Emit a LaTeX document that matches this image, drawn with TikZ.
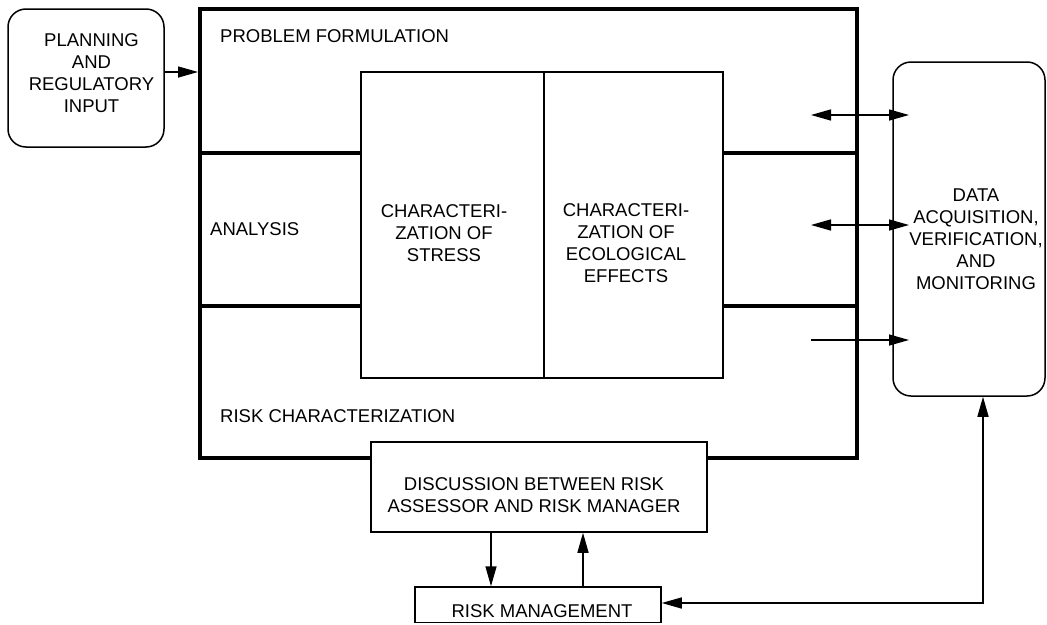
\documentclass[tikz,border=0pt]{standalone}
\usepackage{fontspec}
\setmainfont{Liberation Sans}
\usetikzlibrary{arrows.meta}
\newcommand{\lbfont}{\fontsize{18.5}{22}\selectfont}
\begin{document}
\begin{tikzpicture}[x=1pt,y=-1pt,
  thinline/.style={line width=1.5pt},
  heavyline/.style={line width=4pt},
  box/.style={draw,thinline,inner sep=0pt},
  arr/.style={thinline,-{Triangle[length=20pt,width=11pt]}},
  darr/.style={thinline,{Triangle[length=20pt,width=11pt]}-{Triangle[length=20pt,width=11pt]}},
  lbl/.style={inner sep=0pt,align=center,font=\lbfont},
  lbll/.style={inner sep=0pt,anchor=west,font=\lbfont}]
\useasboundingbox (0,0) rectangle (1047,624);
\fill[white] (0,0) rectangle (1047,624);

% boxes
\node[box,rounded corners=18pt,minimum width=156pt,minimum height=138pt] (plan) at (86,78) {};
\node[draw,heavyline,inner sep=0pt,minimum width=657pt,minimum height=449pt] (main) at (528.5,233.5) {};
\node[box,minimum width=183pt,minimum height=306pt] (stress) at (452.5,225) {};
\node[box,minimum width=179pt,minimum height=306pt] (eco) at (633.5,225) {};
\node[box,rounded corners=18pt,minimum width=152pt,minimum height=334pt] (data) at (969,229) {};
\node[box,fill=white,minimum width=336pt,minimum height=90pt] (disc) at (539,487) {};
\node[box,minimum width=246pt,minimum height=35.5pt] (rm) at (538,604.75) {};

% texts
\node[lbl] (plant) at (91.5,73) {PLANNING\\AND\\REGULATORY\\INPUT};
\node[lbll] (pf) at (220,36) {PROBLEM FORMULATION};
\node[lbll] (an) at (210,229) {ANALYSIS};
\node[lbll] (rc) at (220,416) {RISK CHARACTERIZATION};
\node[lbl] (stresst) at (444,233.5) {CHARACTERI-\\ZATION OF\\STRESS};
\node[lbl] (ecot) at (626,243) {CHARACTERI-\\ZATION OF\\ECOLOGICAL\\EFFECTS};
\node[lbl] (datat) at (976,239.5) {DATA\\ACQUISITION,\\VERIFICATION,\\AND\\MONITORING};
\node[lbl] (disct) at (534,495) {DISCUSSION BETWEEN RISK\\ASSESSOR AND RISK MANAGER};
\node[lbl] (rmt) at (542,611) {RISK MANAGEMENT};

% helper coordinates
\coordinate (ya) at (0,72);
\coordinate (y1) at (0,153);
\coordinate (y2) at (0,306);
\coordinate (xd) at (491,0);
\coordinate (xu) at (583,0);
\coordinate (corner) at (983,603);
\coordinate (r1a) at (811,115);
\coordinate (r1b) at (909,115);
\coordinate (r2a) at (811,225);
\coordinate (r2b) at (909,225);
\coordinate (r3a) at (811,340);
\coordinate (r3b) at (909,340);

% connectors
\draw[arr] (plan.east |- ya) -- (main.west |- ya);
\draw[heavyline] (main.west |- y1) -- (stress.west |- y1);
\draw[heavyline] (main.west |- y2) -- (stress.west |- y2);
\draw[heavyline] (eco.east |- y1) -- (main.east |- y1);
\draw[heavyline] (eco.east |- y2) -- (main.east |- y2);
\draw[darr] (r1a) -- (r1b);
\draw[darr] (r2a) -- (r2b);
\draw[arr] (r3a) -- (r3b);
\draw[arr] (disc.south -| xd) -- (rm.north -| xd);
\draw[arr] (rm.north -| xu) -- (disc.south -| xu);
\draw[darr] (rm.east |- corner) -- (corner) -- (data.south -| corner);
\end{tikzpicture}
\end{document}
